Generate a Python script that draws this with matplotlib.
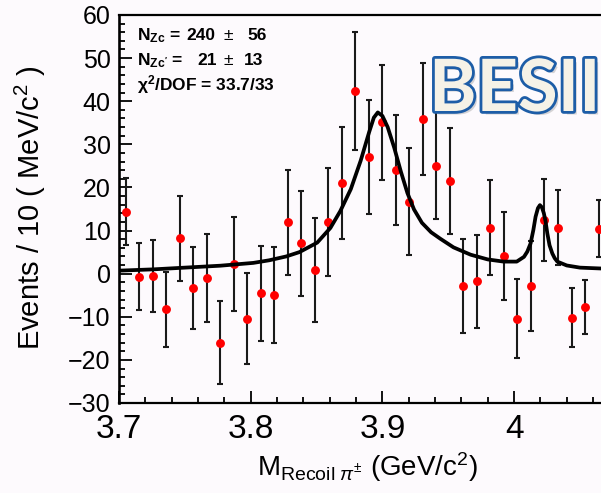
import matplotlib
matplotlib.use("Agg")
import matplotlib.pyplot as plt
import numpy as np
from matplotlib import patheffects as pe
from matplotlib.ticker import MultipleLocator

plt.rcParams["font.family"] = ["Liberation Sans", "DejaVu Sans"]
plt.rcParams["mathtext.fontset"] = "custom"
plt.rcParams["mathtext.rm"] = "Liberation Sans"
plt.rcParams["mathtext.it"] = "Liberation Sans:italic"
plt.rcParams["mathtext.bf"] = "Liberation Sans:bold"

# ---- data: recoil-mass histogram (39 bins over 3.7-4.1 GeV/c^2, first 36 shown)
counts = [14.4, -0.7, -0.5, -8.2, 8.2, -3.3, -1.1, -16.0, 2.3, -10.4,
          -4.6, -5.0, 11.9, 7.0, 0.9, 11.9, 21.0, 42.4, 27.1, 35.1,
          24.0, 16.7, 35.8, 25.0, 21.5, -2.9, -1.8, 10.7, 4.1, -10.4,
          -2.9, 12.4, 10.7, -10.2, -7.7, 10.4]
errors = [7.8, 7.7, 8.3, 8.7, 9.8, 9.5, 10.2, 9.7, 10.9, 10.6,
          11.0, 11.1, 12.2, 12.1, 12.0, 12.5, 13.0, 13.7, 13.2, 13.4,
          12.8, 12.4, 13.0, 12.4, 12.2, 10.9, 10.8, 11.0, 10.3, 9.1,
          10.5, 9.5, 8.8, 6.8, 6.3, 6.6]
hist_lo, hist_hi, n_bins = 3.7, 4.1, 39

# ---- fit result, sampled along the mass axis
fit_mass = [3.700, 3.726, 3.750, 3.777, 3.802, 3.814, 3.827, 3.837, 3.8505, 3.8605,
            3.868, 3.876, 3.8835, 3.890, 3.8935, 3.8965, 3.900, 3.904, 3.909, 3.914,
            3.919, 3.924, 3.930, 3.937, 3.944, 3.954, 3.967, 3.980, 3.992, 4.002,
            4.0075, 4.0100, 4.0125, 4.0146, 4.0163, 4.0181, 4.0196, 4.0211, 4.0226, 4.0239,
            4.0252, 4.0269, 4.0290, 4.0308, 4.0328, 4.040, 4.050, 4.066, 4.100]
fit_curve = [0.7, 1.0, 1.4, 1.85, 2.5, 3.1, 4.0, 5.0, 7.2, 10.6,
             14.5, 19.6, 26.2, 32.9, 36.2, 37.4, 36.6, 34.0, 29.2, 23.7,
             18.7, 14.9, 11.8, 9.6, 8.1, 6.1, 4.4, 3.3, 2.8, 2.8,
             3.9, 5.1, 7.0, 10.1, 13.2, 15.2, 15.9, 15.4, 14.0, 12.1,
             9.4, 6.6, 4.7, 3.6, 2.8, 1.9, 1.4, 1.2, 1.1]

x_ticks = [3.7, 3.8, 3.9, 4.0]
x_ticklabels = ["3.7", "3.8", "3.9", "4"]
y_ticks = [-30, -20, -10, 0, 10, 20, 30, 40, 50, 60]

W, H = 601, 493
bg = "#fdfafd"
fig = plt.figure(figsize=(W / 100, H / 100), dpi=100)
fig.patch.set_facecolor(bg)


def fx(px):
    return px / W


def fy(py):
    return 1 - py / H


# the frame runs past the right edge of the canvas
ax = fig.add_axes([fx(119), fy(403), (645.8 - 119) / W, (403 - 15) / H])
ax.set_facecolor(bg)

edges = np.linspace(hist_lo, hist_hi, n_bins + 1)
centers = 0.5 * (edges[:-1] + edges[1:])
xs = centers[:len(counts)]

ax.errorbar(xs, counts, yerr=errors, fmt="none", ecolor="#1a1a1a",
            elinewidth=1.5, capsize=2.2, capthick=1.5, zorder=2)
ax.plot(xs, counts, "o", color="#ff0000", markersize=6.4, markeredgewidth=0, zorder=3)
ax.plot(fit_mass, fit_curve, color="black", lw=2.7, solid_joinstyle="round",
        solid_capstyle="round", zorder=4)

ax.set_xlim(hist_lo, hist_hi)
ax.set_ylim(-30, 60)

ax.set_xticks(x_ticks)
ax.set_xticklabels(x_ticklabels)
ax.set_yticks(y_ticks)
ax.xaxis.set_minor_locator(MultipleLocator(0.02))
ax.yaxis.set_minor_locator(MultipleLocator(2))
ax.tick_params(axis="both", which="both", direction="in", top=False, right=False,
               color="black", width=1.3)
ax.tick_params(axis="x", which="major", length=8.5, labelsize=24, pad=8)
ax.tick_params(axis="x", which="minor", length=4.3)
ax.tick_params(axis="y", which="major", length=9.5, labelsize=18, pad=6)
ax.tick_params(axis="y", which="minor", length=4.3)
for s in ("top", "bottom"):
    ax.spines[s].set_linewidth(1.6)
ax.spines["left"].set_linewidth(1.9)
ax.spines["right"].set_visible(False)

# axis titles
fig.text(fx(367), fy(476), r"M$_{\mathrm{Recoil}\ \pi^{\pm}}$ (GeV/c$^{2}$)",
         fontsize=20, ha="center", va="baseline")
fig.text(fx(30), fy(208), r"Events / 10 ( MeV/c$^{2}$ )", fontsize=21,
         rotation=90, ha="center", va="center")

# fit summary
fs = 12.5
stat_kw = dict(fontsize=fs, fontweight="bold", va="baseline")
fig.text(fx(137), fy(40), r"$\mathbf{N}_{\mathbf{Zc}}$ =", ha="left", **stat_kw)
fig.text(fx(215), fy(40), "240", ha="right", **stat_kw)
fig.text(fx(228), fy(40), "\u00b1", ha="center", fontsize=fs, va="baseline")
fig.text(fx(247), fy(40), "56", ha="left", **stat_kw)
fig.text(fx(137), fy(65), r"$\mathbf{N}_{\mathbf{Zc'}}$ =", ha="left", **stat_kw)
fig.text(fx(216.5), fy(65), "21", ha="right", **stat_kw)
fig.text(fx(228), fy(65), "\u00b1", ha="center", fontsize=fs, va="baseline")
fig.text(fx(244), fy(65), "13", ha="left", **stat_kw)
fig.text(fx(137), fy(90.5), "\u03c7$^{\\mathbf{2}}$/DOF = 33.7/33", ha="left", **stat_kw)

# experiment tag
fig.text(fx(429), fy(111), "BESIII", fontsize=52, fontweight="bold",
         family="Lato", color="#f5f2e7", ha="left", va="baseline",
         path_effects=[pe.SimplePatchShadow(offset=(2.5, -2.5), shadow_rgbFace="#888888", alpha=0.35),
                       pe.withStroke(linewidth=4, foreground="#1d5da7")])

fig.savefig("out.png", dpi=100, facecolor=bg)
